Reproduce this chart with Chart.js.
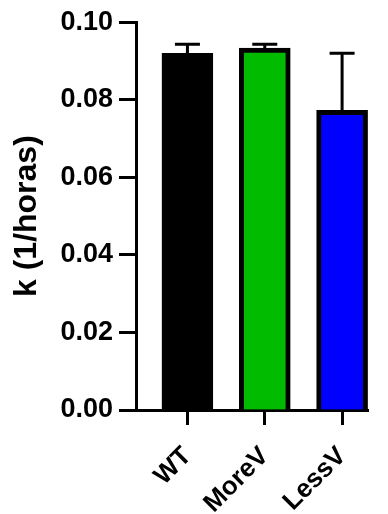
<!DOCTYPE html>
<html>
<head>
<meta charset="utf-8">
<script src="https://cdn.jsdelivr.net/npm/chart.js@4"></script>
<style>
  html, body { margin: 0; padding: 0; background: #fff; }
  #chart { display: block; }
</style>
</head>
<body>
<canvas id="chart" width="388" height="514"></canvas>
<script>
// --- DATA ---
const categories = ['WT', 'MoreV', 'LessV'];
const means = [0.0920, 0.0933, 0.0773];
const errorsUp = [0.0023, 0.0010, 0.0147];
const barColors = ['#000000', '#00bb00', '#0000ff'];
const yTicks = [0, 0.02, 0.04, 0.06, 0.08, 0.10];

const FONT = "'Liberation Sans', Arial, Helvetica, sans-serif";

// --- ERROR BARS (upper only, Prism style) ---
const errorBarPlugin = {
    id: 'errorBars',
    afterDatasetsDraw: (chart) => {
        const ctx = chart.ctx;
        const yScale = chart.scales.y;
        const meta = chart.getDatasetMeta(0);
        ctx.save();
        ctx.strokeStyle = '#000';
        ctx.lineWidth = 3;
        meta.data.forEach((bar, i) => {
            const yTop = yScale.getPixelForValue(means[i] + errorsUp[i]);
            const half = 12.5;
            ctx.beginPath();
            ctx.moveTo(bar.x, bar.y);
            ctx.lineTo(bar.x, yTop);
            ctx.moveTo(bar.x - half, yTop);
            ctx.lineTo(bar.x + half, yTop);
            ctx.stroke();
        });
        ctx.restore();
    }
};

new Chart(document.getElementById('chart').getContext('2d'), {
    type: 'bar',
    data: {
        datasets: [{
            data: means.map((v, i) => ({ x: i, y: v })),
            backgroundColor: barColors,
            borderColor: '#000',
            borderWidth: 5,
            borderSkipped: 'bottom',
            barThickness: 51
        }]
    },
    options: {
        responsive: false,
        animation: false,
        events: [],
        layout: { padding: { top: 22, right: 20, left: 0, bottom: 0 } },
        plugins: { legend: { display: false }, tooltip: { enabled: false } },
        scales: {
            x: {
                type: 'linear',
                offset: false,
                bounds: 'data',
                min: -0.665,
                max: 2.335,
                afterBuildTicks: (scale) => { scale.ticks = categories.map((_, i) => ({ value: i })); },
                afterFit: (scale) => { scale.height = 104; },
                grid: { offset: false, drawOnChartArea: false, drawTicks: true, tickLength: 15, tickWidth: 3, tickColor: '#000' },
                border: { display: true, color: '#000', width: 3 },
                ticks: {
                    autoSkip: false,
                    minRotation: 45,
                    maxRotation: 45,
                    padding: 16,
                    color: '#000',
                    font: { family: FONT, size: 26, weight: 'bold' },
                    callback: (v) => categories[v]
                }
            },
            y: {
                min: 0,
                max: 0.1,
                afterBuildTicks: (scale) => { scale.ticks = yTicks.map(v => ({ value: v })); },
                afterFit: (scale) => { scale.width = 136; },
                grid: { drawOnChartArea: false, drawTicks: true, tickLength: 17, tickWidth: 3, tickColor: '#000' },
                border: { display: true, color: '#000', width: 3 },
                ticks: {
                    padding: 6,
                    color: '#000',
                    font: { family: FONT, size: 27, weight: 'bold' },
                    callback: (v) => v.toFixed(2)
                },
                title: {
                    display: true,
                    text: 'k (1/horas)',
                    color: '#000',
                    padding: { top: 8, bottom: 0 },
                    font: { family: FONT, size: 32, weight: 'bold' }
                }
            }
        }
    },
    plugins: [errorBarPlugin]
});
</script>
</body>
</html>
